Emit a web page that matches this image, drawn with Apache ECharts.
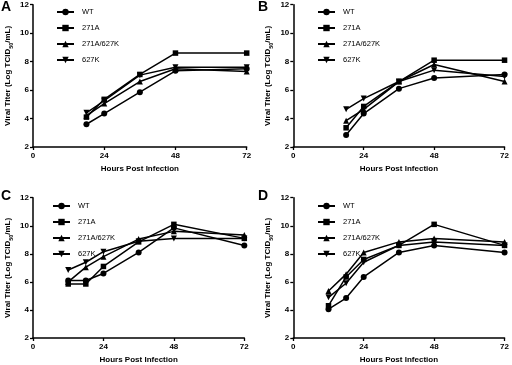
<!DOCTYPE html>
<html>
<head>
<meta charset="utf-8">
<script src="https://cdn.jsdelivr.net/npm/echarts@6/dist/echarts.min.js"></script>
<style>html,body{margin:0;padding:0;background:#fff;}#c{width:512px;height:365px;}</style>
</head>
<body>
<div id="c"></div>
<script>
var seriesNames = ['WT', '271A', '271A/627K', '627K'];
var panelLetters = ['A', 'B', 'C', 'D'];
var xTicks = [0, 24, 48, 72];
var yTicks = [2, 4, 6, 8, 10, 12];

var timesAB = [18, 24, 36, 48, 72];
var timesCD = [12, 18, 24, 36, 48, 72];

var A_WT      = [3.6, 4.35, 5.85, 7.35, 7.5];
var A_271A    = [4.1, 5.35, 7.1, 8.6, 8.6];
var A_271A627K= [4.2, 5.05, 6.6, 7.5, 7.3];
var A_627K    = [4.4, 5.25, 7.05, 7.6, 7.6];

var B_WT      = [2.85, 4.35, 6.1, 6.85, 7.1];
var B_271A    = [3.35, 4.85, 6.6, 8.1, 8.1];
var B_271A627K= [3.85, 4.65, 6.6, 7.8, 6.6];
var B_627K    = [4.65, 5.4, 6.6, 7.4, 6.95];

var C_WT      = [6.1, 6.1, 6.6, 8.1, 9.85, 8.6];
var C_271A    = [5.85, 5.85, 7.1, 8.85, 10.1, 9.1];
var C_271A627K= [6.0, 7.05, 7.8, 9.05, 9.6, 9.35];
var C_627K    = [6.85, 7.4, 8.15, 8.9, 9.1, 9.1];

var D_WT      = [4.05, 4.85, 6.35, 8.1, 8.6, 8.1];
var D_271A    = [4.3, 6.35, 7.6, 8.6, 10.1, 8.6];
var D_271A627K= [5.35, 6.55, 8.1, 8.85, 9.1, 8.85];
var D_627K    = [4.9, 5.9, 7.4, 8.6, 8.85, 8.6];

var panels = [
  {times: timesAB, vals: [A_WT, A_271A, A_271A627K, A_627K]},
  {times: timesAB, vals: [B_WT, B_271A, B_271A627K, B_627K]},
  {times: timesCD, vals: [C_WT, C_271A, C_271A627K, C_627K]},
  {times: timesCD, vals: [D_WT, D_271A, D_271A627K, D_627K]}
];

var FONT = '"Liberation Sans", Arial, sans-serif';
var grids = [
  {left: 32, top: 4.7, width: 214.7, height: 142.3},
  {left: 293.3, top: 4.7, width: 214.5, height: 142.3},
  {left: 29.3, top: 197.7, width: 215, height: 143.3},
  {left: 293.3, top: 197.7, width: 214.4, height: 143.3}
];
var legendPos = [
  {left: 56, top: 8},
  {left: 317, top: 8},
  {left: 52, top: 202},
  {left: 317, top: 202}
];
var letterPos = [
  {left: 1, top: 0},
  {left: 258, top: 0},
  {left: 1, top: 189},
  {left: 258, top: 189}
];
var symbols = ['circle', 'rect', 'triangle', 'triangle'];
var rotations = [0, 0, 0, 180];

var axisLine = {show: true, lineStyle: {color: '#000', width: 1.5}};
var axisTick = {show: true, length: 3, lineStyle: {color: '#000', width: 1.3}};
var tickLabel = {color: '#000', fontSize: 8, fontWeight: 'bold', fontFamily: FONT};

var xAxes = [], yAxes = [], series = [], legends = [], titles = [];
for (var p = 0; p < 4; p++) {
  xAxes.push({
    gridIndex: p, type: 'value', min: xTicks[0], max: xTicks[xTicks.length - 1], interval: 24,
    axisLine: axisLine, axisTick: axisTick, splitLine: {show: false},
    axisLabel: Object.assign({margin: 5}, tickLabel),
    name: 'Hours Post Infection', nameLocation: 'middle', nameGap: 18,
    nameTextStyle: {color: '#000', fontSize: 8, fontWeight: 'bold', fontFamily: FONT}
  });
  yAxes.push({
    gridIndex: p, type: 'value', min: yTicks[0], max: yTicks[yTicks.length - 1], interval: 2,
    axisLine: axisLine, axisTick: axisTick, splitLine: {show: false},
    axisLabel: Object.assign({margin: 4}, tickLabel),
    name: 'Viral Titer (Log TCID{s|50}/mL)', nameLocation: 'middle', nameGap: 19,
    nameTextStyle: {color: '#000', fontSize: 8, fontWeight: 'bold', fontFamily: FONT, lineHeight: 13,
      rich: {s: {fontSize: 5.5, fontWeight: 'bold', fontFamily: FONT, color: '#000', verticalAlign: 'bottom', lineHeight: 7}}}
  });
  for (var s = 0; s < 4; s++) {
    var d = [];
    for (var i = 0; i < panels[p].times.length; i++) d.push([panels[p].times[i], panels[p].vals[s][i]]);
    series.push({
      type: 'line', name: seriesNames[s], xAxisIndex: p, yAxisIndex: p, data: d,
      symbol: symbols[s], symbolRotate: rotations[s], symbolSize: s === 1 ? 5.5 : 6,
      showAllSymbol: true, animation: false,
      lineStyle: {color: '#000', width: 1.5}, itemStyle: {color: '#000'},
      emphasis: {disabled: true}
    });
  }
  legends.push({
    data: seriesNames, orient: 'vertical', left: legendPos[p].left, top: legendPos[p].top,
    padding: 0, itemWidth: 17, itemHeight: 8, itemGap: 8,
    textStyle: {color: '#000', fontSize: 7.5, fontFamily: FONT, padding: [0, 0, 0, 3]}
  });
  titles.push({
    text: panelLetters[p], left: letterPos[p].left, top: letterPos[p].top, padding: 0,
    textStyle: {color: '#000', fontSize: 14, fontWeight: 'bold', fontFamily: FONT}
  });
}

var chart = echarts.init(document.getElementById('c'), null, {renderer: 'canvas'});
chart.setOption({
  animation: false,
  backgroundColor: '#fff',
  title: titles,
  grid: grids,
  xAxis: xAxes,
  yAxis: yAxes,
  legend: legends,
  series: series
});
</script>
</body>
</html>
